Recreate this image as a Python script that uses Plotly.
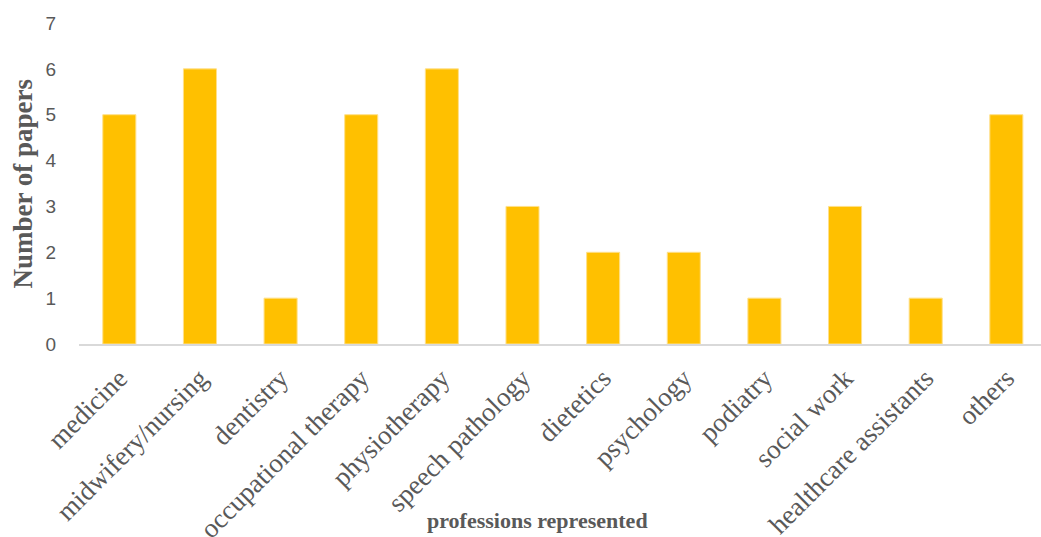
import plotly.graph_objects as go

categories = ["medicine", "midwifery/nursing", "dentistry", "occupational therapy",
              "physiotherapy", "speech pathology", "dietetics", "psychology",
              "podiatry", "social work", "healthcare assistants", "others"]
papers = [5, 6, 1, 5, 6, 3, 2, 2, 1, 3, 1, 5]
y_ticks = [0, 1, 2, 3, 4, 5, 6, 7]

W, H = 1041, 537
L, R, T, B = 79, 0, 23, 193

fig = go.Figure(go.Bar(
    x=list(range(len(categories))), y=papers,
    marker=dict(color="#FFC000", line=dict(color="#FFE08A", width=1)),
    width=0.41,
))

serif = "Liberation Serif, Times New Roman, serif"
gray = "#595959"

fig.update_layout(
    width=W, height=H,
    margin=dict(l=L, r=R, t=T, b=B, autoexpand=False),
    plot_bgcolor="white", paper_bgcolor="white",
    showlegend=False,
    xaxis=dict(
        tickmode="array", tickvals=list(range(len(categories))), ticktext=categories,
        range=[-0.5, 11.43], tickangle=-45,
        tickfont=dict(family=serif, size=27, color=gray),
        showline=True, linecolor="#D9D9D9", linewidth=1.5,
        showgrid=False, zeroline=False, ticks="", ticklabelstandoff=6,
        automargin=False,
    ),
    yaxis=dict(
        range=[0, 7], tickmode="array", tickvals=y_ticks,
        tickfont=dict(family="Liberation Sans, Arial, sans-serif", size=19, color=gray),
        showgrid=False, zeroline=False, showline=False, ticks="",
        ticklabelstandoff=22, automargin=False,
    ),
    annotations=[
        dict(text="<b>professions represented</b>", xref="paper", yref="paper",
             x=(537 - L) / (W - L - R), y=-(520 - (H - B)) / (H - T - B),
             xanchor="center", yanchor="middle", showarrow=False,
             font=dict(family=serif, size=22, color=gray)),
        dict(text="<b>Number of papers</b>", xref="paper", yref="paper",
             x=(22 - L) / (W - L - R), y=0.5, textangle=-90,
             xanchor="center", yanchor="middle", showarrow=False,
             font=dict(family=serif, size=27, color=gray)),
    ],
)

fig.write_html("out.html")
